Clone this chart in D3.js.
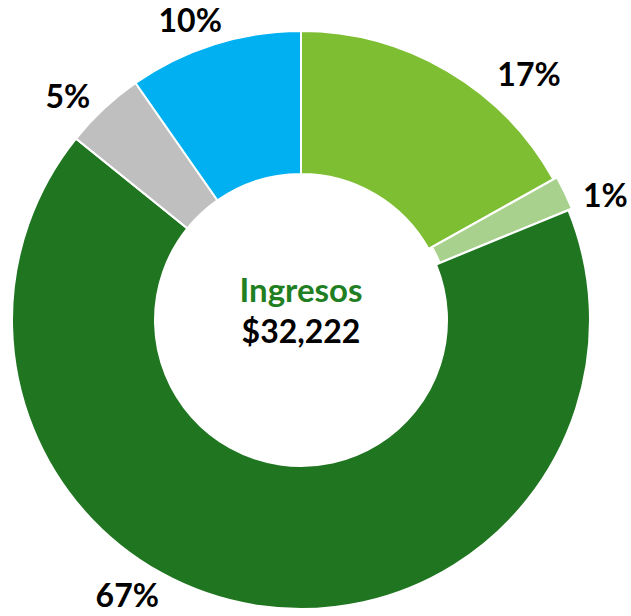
<!DOCTYPE html>
<html><head><meta charset="utf-8">
<script src="https://cdn.jsdelivr.net/npm/d3@7"></script>
<style>html,body{margin:0;padding:0;background:#fff;}svg{display:block;}</style>
</head><body>
<svg id="chart" width="631" height="616"></svg>
<script>
// Data
const categories = ["A", "B", "C", "D", "E"];
const shares = [16.9, 1.9, 67.0, 4.5, 9.7];
const labels = ["17%", "1%", "67%", "5%", "10%"];
const centerTitle = "Ingresos";
const centerValue = "$32,222";

// Styles / layout
const colors = ["#7DBE32", "#A9D18E", "#1F7520", "#BFBFBF", "#00B0F0"];
const explode = [0, 4, 0, 0, 0];
// label placement (angle in degrees clockwise from top, radius to label centre) – layout only
const labelPos = [[42.9, 335], [67.7, 329], [212.2, 326], [313.8, 323], [339.7, 319.4]];
const labelSize = 32;

const W = 631, H = 616, cx = 301, cy = 320, R = 289, r = 146;
const svg = d3.select("#chart");
const g = svg.append("g").attr("transform", `translate(${cx},${cy})`);

const pie = d3.pie().sort(null).value(d => d)(shares);
const arc = d3.arc().innerRadius(r).outerRadius(R);

g.selectAll("path").data(pie).join("path")
  .attr("d", arc)
  .attr("fill", (d, i) => colors[i])
  .attr("stroke", "#fff").attr("stroke-width", 2)
  .attr("transform", (d, i) => {
    const a = (d.startAngle + d.endAngle) / 2;
    return `translate(${Math.sin(a) * explode[i]},${-Math.cos(a) * explode[i]})`;
  });

const font = "Lato, 'Open Sans', sans-serif";
g.selectAll("text.lbl").data(pie).join("text").attr("class", "lbl")
  .attr("x", (d, i) => Math.sin(labelPos[i][0] * Math.PI / 180) * labelPos[i][1])
  .attr("y", (d, i) => -Math.cos(labelPos[i][0] * Math.PI / 180) * labelPos[i][1] + labelSize * 0.36)
  .attr("text-anchor", "middle")
  .attr("font-family", font).attr("font-weight", 700).attr("font-size", labelSize)
  .attr("fill", "#000")
  .text((d, i) => labels[i]);

g.append("text").attr("x", 0).attr("y", -18)
  .attr("text-anchor", "middle")
  .attr("font-family", font).attr("font-weight", 700).attr("font-size", 33)
  .attr("fill", "#1F7F22").text(centerTitle);
g.append("text").attr("x", 0).attr("y", 23)
  .attr("text-anchor", "middle")
  .attr("font-family", font).attr("font-weight", 700).attr("font-size", 32)
  .attr("fill", "#000").text(centerValue);
</script>
</body></html>
